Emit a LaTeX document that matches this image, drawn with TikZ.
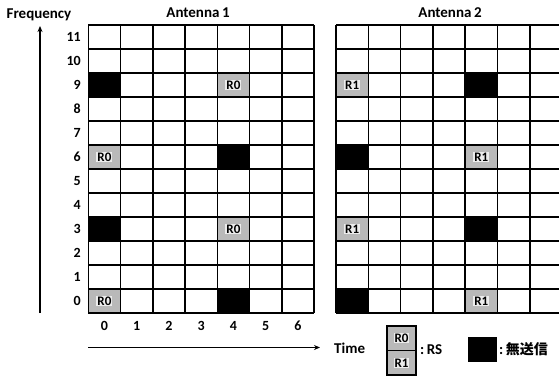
\documentclass[tikz,border=0pt]{standalone}
\usepackage{fontspec}
\setmainfont{Carlito}
\newfontfamily\cjk{Noto Sans CJK JP}
\usetikzlibrary{arrows.meta}
\tikzset{
  gridline/.style={line width=1.6pt},
  nosend/.style={fill=black},
  rscell/.style={fill=gray!55},
  rslabel/.style={fill=gray!15, inner sep=1pt, font=\bfseries\fontsize{13}{13}\selectfont},
  lbl/.style={font=\bfseries\fontsize{14}{14}\selectfont, inner sep=0pt},
  title/.style={font=\bfseries\fontsize{15}{15}\selectfont, inner sep=0pt},
  axis/.style={line width=1.3pt, -{Stealth[length=6pt,width=5pt]}},
}
\begin{document}
\begin{tikzpicture}[x=1pt,y=-1pt]
\useasboundingbox (0,0) rectangle (559,376);
\begin{scope}
\clip (0,0) rectangle (559,376);
% ---- Antenna 1 grid ----
\def\LX{88.3}\def\W{32.25}\def\TY{25}\def\H{24}
\foreach \c/\r in {0/9,4/6,0/3,4/0}{
  \fill[nosend] ({\LX+\c*\W},{\TY+(11-\r)*\H}) rectangle ++(\W,\H);
}
\foreach \c/\r [count=\i] in {4/9,0/6,4/3,0/0}{
  \fill[rscell] ({\LX+\c*\W},{\TY+(11-\r)*\H}) rectangle ++(\W,\H);
  \node[rslabel] (a1rs\i) at ({\LX+(\c+0.5)*\W},{\TY+(11.5-\r)*\H}) {R0};
}
\foreach \i in {0,...,7}{
  \draw[gridline] ({\LX+\i*\W},\TY) -- ({\LX+\i*\W},{\TY+12*\H});
}
\foreach \j in {0,...,12}{
  \draw[gridline] (\LX,{\TY+\j*\H}) -- ({\LX+7*\W},{\TY+\j*\H});
}
% ---- Antenna 2 grid ----
\def\RX{336}\def\RW{32.3}
\foreach \c/\r in {4/9,0/6,4/3,0/0}{
  \fill[nosend] ({\RX+\c*\RW},{\TY+(11-\r)*\H}) rectangle ++(\RW,\H);
}
\foreach \c/\r [count=\i] in {0/9,4/6,0/3,4/0}{
  \fill[rscell] ({\RX+\c*\RW},{\TY+(11-\r)*\H}) rectangle ++(\RW,\H);
  \node[rslabel] (a2rs\i) at ({\RX+(\c+0.5)*\RW},{\TY+(11.5-\r)*\H}) {R1};
}
\foreach \i in {0,...,7}{
  \draw[gridline] ({\RX+\i*\RW},\TY) -- ({\RX+\i*\RW},{\TY+12*\H});
}
\foreach \j in {0,...,12}{
  \draw[gridline] (\RX,{\TY+\j*\H}) -- ({\RX+7*\RW},{\TY+\j*\H});
}
% ---- row labels ----
\foreach \r in {0,...,11}{
  \node[lbl, anchor=east] (row\r) at (81,{\TY+(11.5-\r)*\H}) {\r};
}
% ---- column labels ----
\foreach \c in {0,...,6}{
  \node[lbl] (col\c) at ({\LX+(\c+0.5)*\W},326) {\c};
}
% ---- titles ----
\node[title] (freq) at (39,15) {Frequency};
\node[title] (ant1) at (198,13) {Antenna\,1};
\node[title] (ant2) at (450,13) {Antenna\,2};
% ---- axes ----
\coordinate (fbot) at (40,313);
\coordinate (ftop) at (40,26);
\draw[axis] (fbot) -- (ftop);
\coordinate (tl) at (88,347.5);
\coordinate (tr) at (320,347.5);
\draw[axis] (tl) -- (tr);
\node[title, anchor=west] (time) at (334,348) {Time};
% ---- legend ----
\fill[rscell] (387,326) rectangle (416,375);
\draw[line width=1.2pt] (387,326) rectangle (416,375);
\draw[line width=1.2pt] (387,350.5) -- (416,350.5);
\node[rslabel] (lr0) at (401.5,338) {R0};
\node[rslabel] (lr1) at (401.5,363) {R1};
\node[title, anchor=west] (lrs) at (420,350) {:\,RS};
\fill[nosend] (467.5,336.5) rectangle (496.5,361.5);
\node[title, anchor=west] (lns) at (499,349) {:\,{\cjk\fontsize{14}{14}\selectfont 無送信}};
\end{scope}
\end{tikzpicture}
\end{document}
